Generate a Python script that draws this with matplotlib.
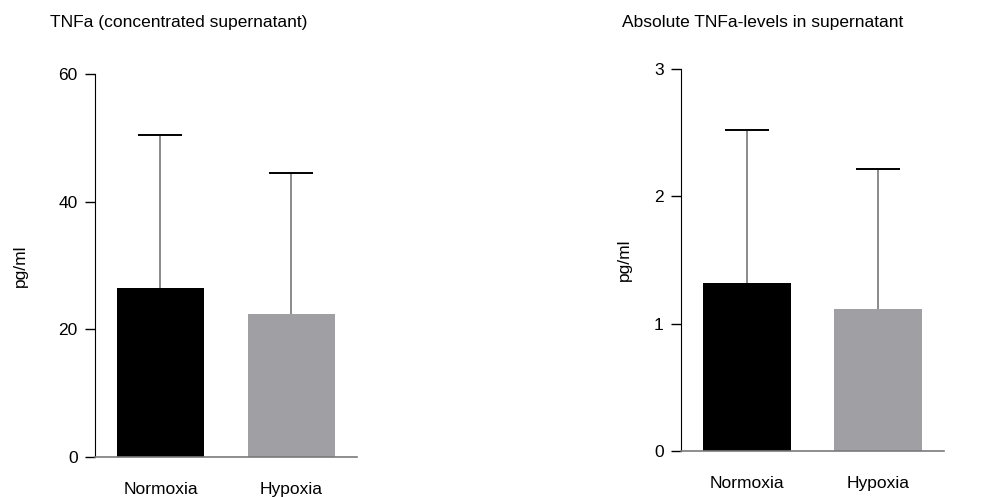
import matplotlib
matplotlib.use("Agg")
import matplotlib.pyplot as plt

plt.rcParams['font.family'] = ['Liberation Sans', 'DejaVu Sans']

# data
groups = ["Normoxia", "Hypoxia"]
conc_mean = [26.5, 22.4]
conc_err = [24.0, 22.1]
abs_mean = [1.32, 1.115]
abs_err = [1.20, 1.10]
conc_ticks = [0, 20, 40, 60]
abs_ticks = [0, 1, 2, 3]
bar_colors = ["#000000", "#a09fa4"]

FS = 12.5


def bar_panel(ax, means, errs, ticks, ylpad):
    x = list(range(len(groups)))
    ax.bar(x, means, width=0.67, color=bar_colors, zorder=2)
    # only the upper half of the error bar is drawn
    _, caps, lines = ax.errorbar(x, means, yerr=[[0] * len(errs), errs], fmt='none',
                                 ecolor='#6b6b6b', elinewidth=1.1, capsize=16,
                                 capthick=1.4, zorder=1)
    for c in caps:
        if list(c.get_ydata()) == list(means):
            c.set_visible(False)
        c.set_markeredgecolor('black')
        c.set_color('black')
    ax.set_xlim(-0.5, 1.5)
    ax.set_ylim(0, ticks[-1])
    ax.set_yticks(ticks)
    ax.set_xticks(x)
    ax.set_xticklabels(groups, fontsize=FS)
    ax.tick_params(axis='x', length=0, pad=18)
    ax.tick_params(axis='y', length=7.5, width=1, labelsize=FS, pad=5)
    for s in ['top', 'right']:
        ax.spines[s].set_visible(False)
    ax.spines['left'].set_color('black')
    ax.spines['bottom'].set_color('#7a7a7a')
    ax.spines['bottom'].set_linewidth(1.2)
    ax.set_ylabel("pg/ml", fontsize=FS, labelpad=ylpad)


fig = plt.figure(figsize=(10.06, 4.97), dpi=100)
ax1 = fig.add_axes([0.0944, 0.0805, 0.2604, 0.7706])
ax2 = fig.add_axes([0.677, 0.0926, 0.2614, 0.7686])

bar_panel(ax1, conc_mean, conc_err, conc_ticks, 22)
bar_panel(ax2, abs_mean, abs_err, abs_ticks, 16)
fig.text(50 / 1006, 1 - 23 / 497, "TNFa (concentrated supernatant)",
         fontsize=FS, ha='left', va='center')
fig.text(622 / 1006, 1 - 23 / 497, "Absolute TNFa-levels in supernatant",
         fontsize=FS, ha='left', va='center')

fig.savefig("out.png", dpi=100)
